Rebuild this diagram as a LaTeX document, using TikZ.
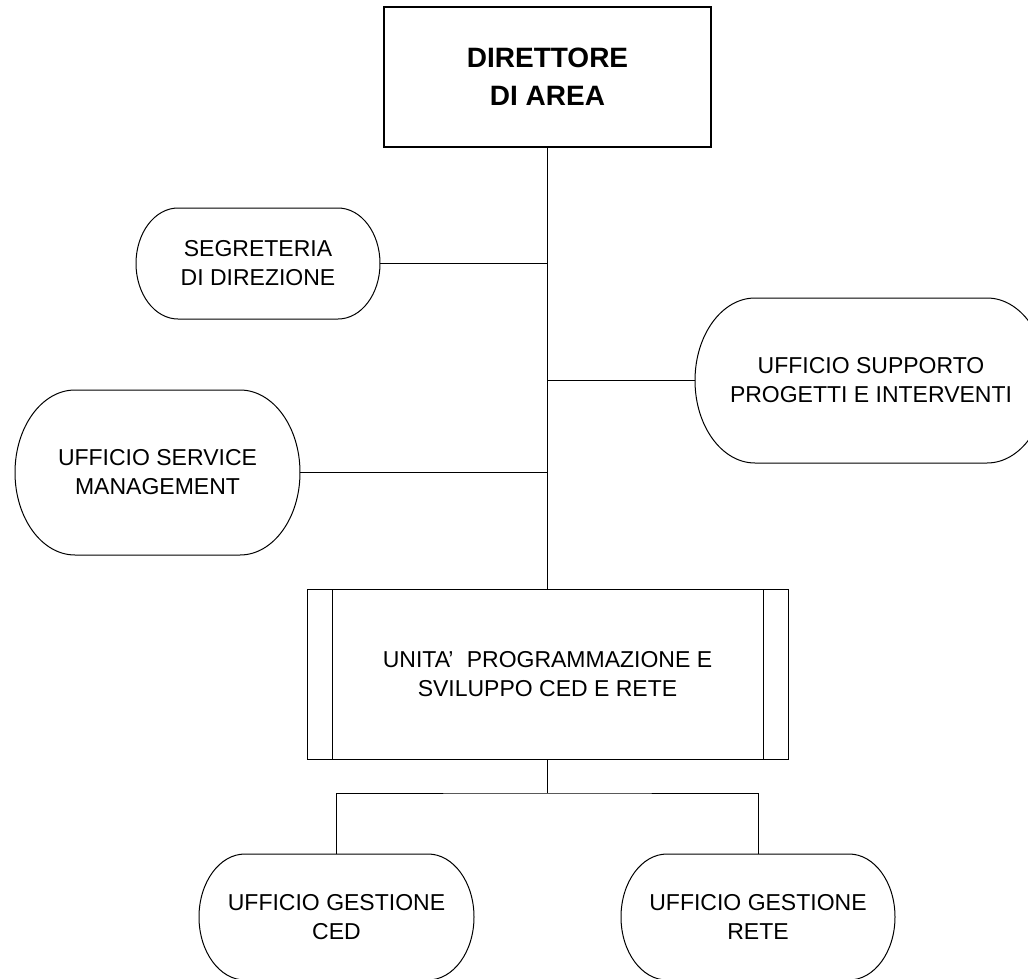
\documentclass[tikz,border=0pt]{standalone}
\usepackage{fontspec}
\setmainfont{Liberation Sans}
\tikzset{
  lbl/.style={align=center, inner sep=0pt, outer sep=0pt, font=\fontsize{23}{29}\selectfont},
  conn/.style={line width=1pt, black},
  outl/.style={line width=1pt, black},
}
\newcommand\stadium[3]{%
  \draw[outl] ([xshift=#2pt]#1.north west) -- ([xshift=-#2pt]#1.north east)
    arc[start angle=90, end angle=-90, x radius=#2pt, y radius=#3pt]
    -- ([xshift=#2pt]#1.south west)
    arc[start angle=270, end angle=90, x radius=#2pt, y radius=#3pt] -- cycle;}
\begin{document}
\begin{tikzpicture}[x=1pt, y=-1pt]
\useasboundingbox (0,0) rectangle (1028,979);
\clip (0,0) rectangle (1028,979);
\fill[white] (0,0) rectangle (1028,979);

% top box
\node[lbl, draw, line width=1.2pt, minimum width=327pt, minimum height=140pt,
      font=\fontsize{28}{38}\selectfont\bfseries] (dir) at (547.5,77) {DIRETTORE\\DI AREA};

% side offices
\node[lbl, minimum width=244pt, minimum height=111pt] (seg) at (258,263.5) {SEGRETERIA\\DI DIREZIONE};
\stadium{seg}{42}{55.5}
\node[lbl, minimum width=352pt, minimum height=165pt] (sup) at (871,380.5) {UFFICIO SUPPORTO\\PROGETTI E INTERVENTI};
\stadium{sup}{60}{82.5}
\node[lbl, minimum width=285pt, minimum height=165pt] (svc) at (157.5,472.5) {UFFICIO SERVICE\\MANAGEMENT};
\stadium{svc}{60}{82.5}

% unit box
\node[lbl, draw, line width=1pt, minimum width=481pt, minimum height=170pt] (uni) at (547.5,674)
  {UNITA’\hspace{0.3em} PROGRAMMAZIONE E\\SVILUPPO CED E RETE};
\draw[outl] ([xshift=25pt]uni.north west) -- ([xshift=25pt]uni.south west);
\draw[outl] ([xshift=-25pt]uni.north east) -- ([xshift=-25pt]uni.south east);

% bottom offices
\node[lbl, minimum width=275pt, minimum height=126pt] (ced) at (336.5,917) {UFFICIO GESTIONE\\CED};
\stadium{ced}{46}{63}
\node[lbl, minimum width=274pt, minimum height=126pt] (ret) at (758,917) {UFFICIO GESTIONE\\RETE};
\stadium{ret}{46}{63}

% connectors
\draw[conn] (dir.south) -- (uni.north);
\draw[conn] (seg.east) -- (seg.east -| dir.south);
\draw[conn] (sup.west) -- (sup.west -| dir.south);
\draw[conn] (svc.east) -- (svc.east -| dir.south);
\coordinate (fork) at (547.5,793);
\draw[conn] (uni.south) -- (fork);
\draw[conn] (ced.north) |- (fork) -| (ret.north);
\end{tikzpicture}
\end{document}
